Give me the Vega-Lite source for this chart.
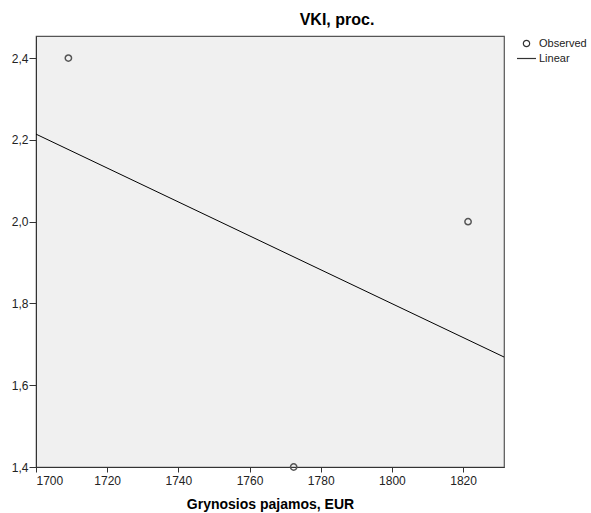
{
  "$schema": "https://vega.github.io/schema/vega-lite/v6.json",
  "width": 468,
  "height": 431,
  "autosize": "none",
  "padding": {"left": 36, "top": 36, "right": 87, "bottom": 46},
  "background": "white",
  "config": {
    "font": "Liberation Sans",
    "view": {"fill": "#F0F0F0", "stroke": "#555555", "strokeWidth": 1.2}
  },
  "title": {
    "text": "VKI, proc.",
    "fontSize": 16,
    "fontWeight": "bold",
    "color": "#000000",
    "anchor": "middle",
    "dx": 67,
    "offset": 8
  },
  "datasets": {
    "observed": [
      {"income": 1709.1, "vki": 2.4},
      {"income": 1772.4, "vki": 1.4},
      {"income": 1821.4, "vki": 2.0}
    ],
    "fit": [
      {"income": 1700, "vki": 2.214},
      {"income": 1831.5, "vki": 1.669}
    ]
  },
  "layer": [
    {
      "data": {"name": "fit"},
      "mark": {"type": "line", "color": "#000000", "strokeWidth": 1, "clip": true},
      "encoding": {
        "x": {"field": "income", "type": "quantitative"},
        "y": {"field": "vki", "type": "quantitative"}
      }
    },
    {
      "data": {"name": "observed"},
      "mark": {"type": "point", "filled": false, "strokeWidth": 1.5, "size": 40, "color": "#555555", "opacity": 1, "clip": false},
      "encoding": {
        "x": {
          "field": "income",
          "type": "quantitative",
          "scale": {"domain": [1700, 1831.5], "nice": false, "zero": false},
          "axis": {
            "values": [1700, 1720, 1740, 1760, 1780, 1800, 1820],
            "format": "d",
            "title": "Grynosios pajamos, EUR",
            "titleFontSize": 14,
            "titleFontWeight": "bold",
            "titleColor": "#000000",
            "titlePadding": 11,
            "labelFontSize": 12,
            "labelColor": "#222222",
            "labelPadding": 3,
            "tickSize": 5,
            "tickColor": "#333333",
            "domainColor": "#333333",
            "grid": false
          }
        },
        "y": {
          "field": "vki",
          "type": "quantitative",
          "scale": {"domain": [1.4, 2.454], "nice": false, "zero": false},
          "axis": {
            "values": [1.4, 1.6, 1.8, 2.0, 2.2, 2.4],
            "labelExpr": "replace(format(datum.value, '.1f'), '.', ',')",
            "title": null,
            "labelFontSize": 12,
            "labelColor": "#222222",
            "labelPadding": 1,
            "tickSize": 7,
            "tickColor": "#333333",
            "domainColor": "#333333",
            "grid": false
          }
        },
        "shape": {
          "datum": "Observed",
          "type": "nominal",
          "scale": {"domain": ["Observed", "Linear"], "range": ["circle", "M-3,0H3"]},
          "legend": {
            "title": null,
            "orient": "none",
            "legendX": 485,
            "legendY": 2,
            "labelFontSize": 11,
            "labelColor": "#222222",
            "labelOffset": 7,
            "rowPadding": 2,
            "symbolFillColor": "transparent",
            "symbolStrokeColor": "#333333",
            "symbolStrokeWidth": 1.2,
            "symbolSize": 40
          }
        }
      }
    }
  ]
}
